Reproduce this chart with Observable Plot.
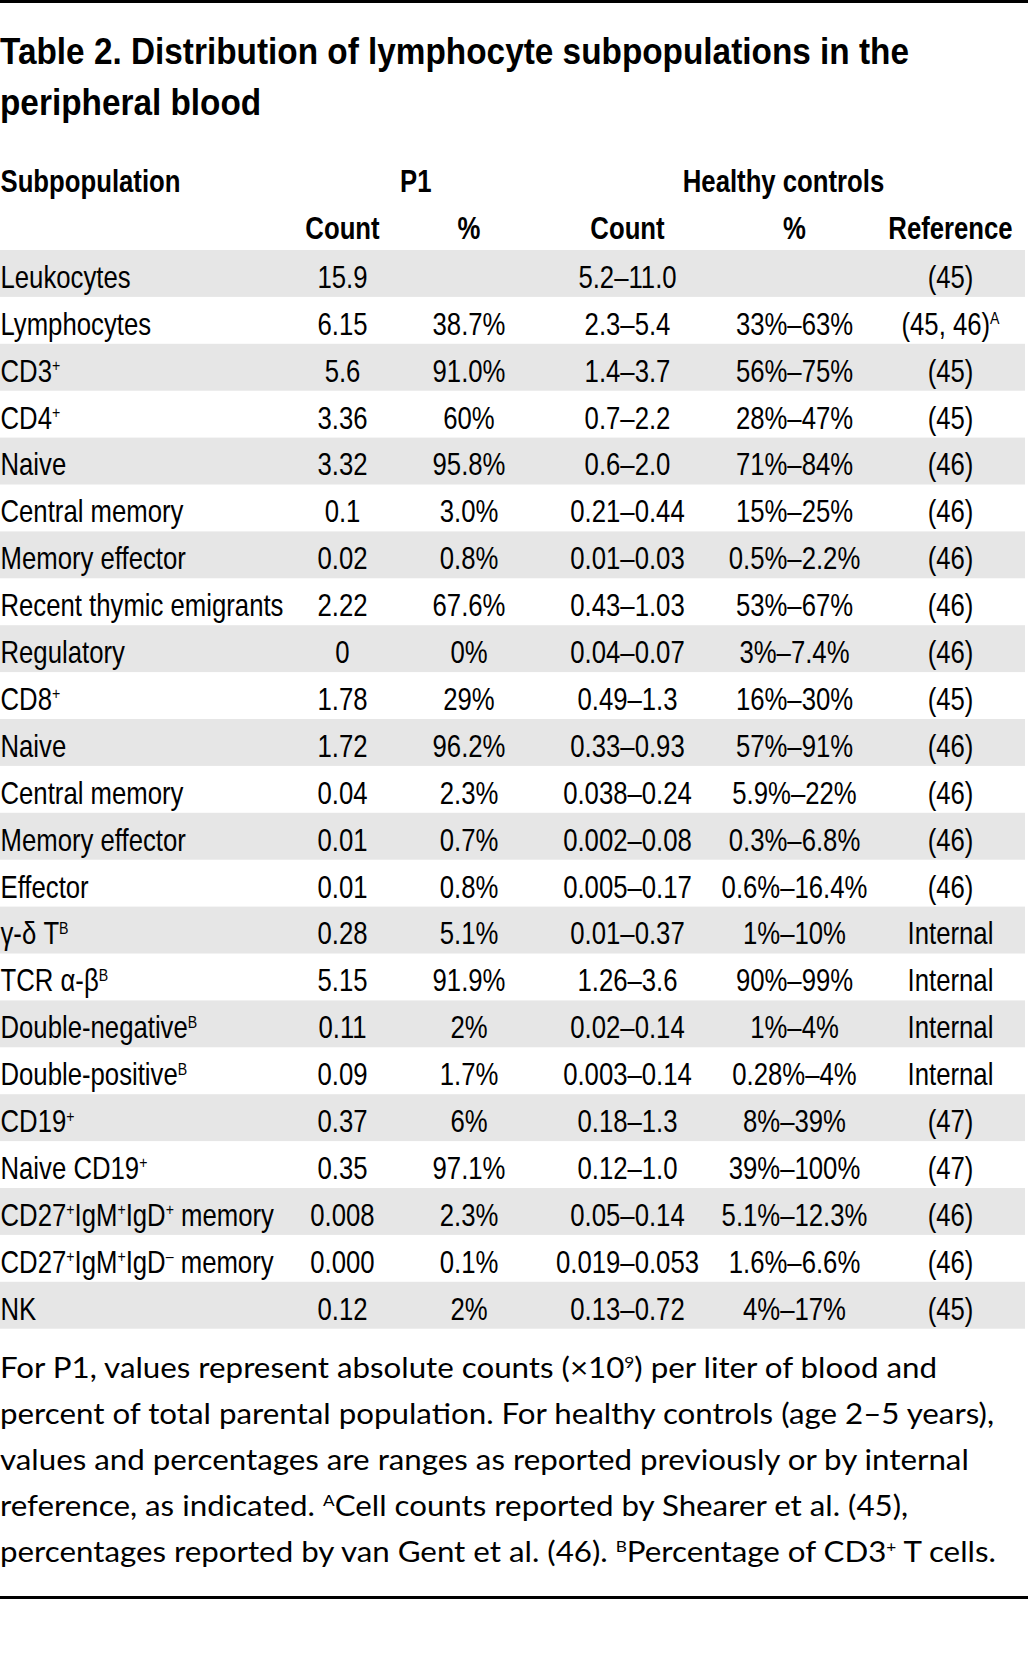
<!DOCTYPE html>
<html>
<head>
<meta charset="utf-8">
<script src="https://cdn.jsdelivr.net/npm/d3@7"></script>
<script src="https://cdn.jsdelivr.net/npm/@observablehq/plot@0.6"></script>
<style>
  html, body { margin: 0; padding: 0; background: #fff; }
  #page { position: relative; width: 1028px; height: 1677px; overflow: hidden; color: #000; }
  .rule { position: absolute; left: 0; width: 1028px; height: 2.5px; background: #000; }
  #title { position: absolute; left: 0; top: 26px; font-family: "Liberation Sans Narrow", "Liberation Sans", sans-serif;
           font-weight: bold; font-size: 36px; line-height: 51px; transform-origin: 0 0; white-space: nowrap; }
  #note { position: absolute; left: 0; top: 1344px; font-family: Lato, "Noto Sans", sans-serif;
          font-size: 29px; line-height: 46px; transform-origin: 0 0; white-space: nowrap; }
  #title span, #note span { display: inline-block; }
  sup { font-size: 55%; vertical-align: 0; position: relative; top: -0.62em; line-height: 0; }
  #chart { position: absolute; left: 0; top: 140px; }
</style>
</head>
<body>
<div id="page">
  <div class="rule" style="top:0"></div>
  <div id="title"><span id="t1">Table 2. Distribution of lymphocyte subpopulations in the</span><br><span>peripheral blood</span></div>
  <div id="chart"></div>
  <div id="note">
    <span>For P1, values represent absolute counts (×10<sup>9</sup>) per liter of blood and</span><br>
    <span id="n2">percent of total parental population. For healthy controls (age 2–5 years),</span><br>
    <span>values and percentages are ranges as reported previously or by internal</span><br>
    <span>reference, as indicated. <sup>A</sup>Cell counts reported by Shearer et al. (45),</span><br>
    <span>percentages reported by van Gent et al. (46). <sup>B</sup>Percentage of CD3<sup>+</sup> T cells.</span>
  </div>
  <div class="rule" style="top:1596px"></div>
</div>
<script>
// ---------- data ----------
const subpopulations = ["Leukocytes","Lymphocytes","CD3⁺","CD4⁺","Naive","Central memory","Memory effector",
  "Recent thymic emigrants","Regulatory","CD8⁺","Naive","Central memory","Memory effector","Effector",
  "γ-δ Tᴮ","TCR α-βᴮ","Double-negativeᴮ","Double-positiveᴮ","CD19⁺","Naive CD19⁺",
  "CD27⁺IgM⁺IgD⁺ memory","CD27⁺IgM⁺IgD⁻ memory","NK"];
const p1Count = ["15.9","6.15","5.6","3.36","3.32","0.1","0.02","2.22","0","1.78","1.72","0.04","0.01","0.01",
  "0.28","5.15","0.11","0.09","0.37","0.35","0.008","0.000","0.12"];
const p1Percent = ["","38.7%","91.0%","60%","95.8%","3.0%","0.8%","67.6%","0%","29%","96.2%","2.3%","0.7%","0.8%",
  "5.1%","91.9%","2%","1.7%","6%","97.1%","2.3%","0.1%","2%"];
const hcCount = ["5.2–11.0","2.3–5.4","1.4–3.7","0.7–2.2","0.6–2.0","0.21–0.44","0.01–0.03","0.43–1.03","0.04–0.07",
  "0.49–1.3","0.33–0.93","0.038–0.24","0.002–0.08","0.005–0.17","0.01–0.37","1.26–3.6","0.02–0.14","0.003–0.14",
  "0.18–1.3","0.12–1.0","0.05–0.14","0.019–0.053","0.13–0.72"];
const hcPercent = ["","33%–63%","56%–75%","28%–47%","71%–84%","15%–25%","0.5%–2.2%","53%–67%","3%–7.4%",
  "16%–30%","57%–91%","5.9%–22%","0.3%–6.8%","0.6%–16.4%","1%–10%","90%–99%","1%–4%","0.28%–4%",
  "8%–39%","39%–100%","5.1%–12.3%","1.6%–6.6%","4%–17%"];
const references = ["(45)","(45, 46)ᴬ","(45)","(45)","(46)","(46)","(46)","(46)","(46)","(45)","(46)","(46)","(46)","(46)",
  "Internal","Internal","Internal","Internal","(47)","(47)","(46)","(46)","(45)"];
const groupHeaders = [{text: "P1", cols: [1, 2]}, {text: "Healthy controls", cols: [3, 5]}];
const columnHeaders = ["Count", "%", "Count", "%", "Reference"];
const firstHeader = "Subpopulation";

// ---------- tables for the library ----------
const valueColumns = [p1Count, p1Percent, hcCount, hcPercent, references];
const cells = [];
valueColumns.forEach((arr, c) => arr.forEach((t, i) => { if (t) cells.push({row: i, col: c + 1, text: t}); }));
const labels = subpopulations.map((t, i) => ({row: i, col: 0, text: t}));
const headers2 = columnHeaders.map((t, c) => ({row: -1, col: c + 1, text: t}));
const shaded = subpopulations.map((_, i) => i).filter(i => i % 2 === 0);
const rowDomain = d3.range(-2, subpopulations.length);

const FONT = '"Liberation Sans Narrow", "Liberation Sans", sans-serif';
const FS = 31;
const CONDENSE = 0.83;

const chart = Plot.plot({
  width: 1028, height: 1200, margin: 0,
  style: {fontFamily: FONT, color: "#000", background: "transparent", overflow: "visible"},
  x: {axis: null, type: "linear", domain: [0, 1, 2, 3, 4, 5], range: [0, 342, 468.5, 627, 794, 950]},
  y: {axis: null, type: "band", domain: rowDomain, range: [16.2, 1188.7], padding: 0, round: false},
  marks: [
    Plot.cell(shaded, {y: d => d, fill: "#e6e6e6", insetRight: 3}),
    Plot.text([firstHeader], {x: () => 0, y: () => -2, text: d => d, textAnchor: "start", fontWeight: "bold", fontSize: FS, dy: 2}),
    Plot.text(groupHeaders.slice(0, 1), {x: d => d3.mean(d.cols), y: () => -2, text: "text", fontWeight: "bold", fontSize: FS, dy: 2, dx: 10}),
    Plot.text(groupHeaders.slice(1), {x: d => d3.mean(d.cols), y: () => -2, text: "text", fontWeight: "bold", fontSize: FS, dy: 2, dx: -11}),
    Plot.text(headers2, {x: "col", y: "row", text: "text", fontWeight: "bold", fontSize: FS, dy: 2}),
    Plot.text(labels, {x: "col", y: "row", text: "text", textAnchor: "start", fontSize: FS, dy: 4}),
    Plot.text(cells, {x: "col", y: "row", text: "text", fontSize: FS, dy: 4})
  ]
});

// superscript characters rendered as raised tspans; condensed glyph width
const SUP = {"⁺": "+", "⁻": "–", "ᴬ": "A", "ᴮ": "B", "⁹": "9"};
chart.querySelectorAll("text").forEach(el => {
  const s = el.textContent;
  if ([...s].some(ch => SUP[ch])) {
    el.textContent = "";
    const runs = [];
    for (const ch of s) {
      const sup = !!SUP[ch];
      const c = sup ? SUP[ch] : ch;
      if (runs.length && runs[runs.length - 1].sup === sup) runs[runs.length - 1].t += c;
      else runs.push({sup, t: c});
    }
    const shift = FS * 0.34;
    let raised = false;
    runs.forEach(r => {
      const ts = document.createElementNS("http://www.w3.org/2000/svg", "tspan");
      ts.textContent = r.t;
      if (r.sup) { ts.setAttribute("font-size", FS * 0.55); ts.setAttribute("dy", -shift); raised = true; }
      else if (raised) { ts.setAttribute("dy", shift); raised = false; }
      el.appendChild(ts);
    });
  }
  const t = el.getAttribute("transform");
  if (t) el.setAttribute("transform", `${t} scale(${CONDENSE},1)`);
  else {
    const x = +(el.getAttribute("x") || 0), y = +(el.getAttribute("y") || 0);
    el.removeAttribute("x"); el.removeAttribute("y");
    el.setAttribute("transform", `translate(${x},${y}) scale(${CONDENSE},1)`);
  }
});
document.getElementById("chart").appendChild(chart);

// fit title and note widths to the reference line lengths
function fit(blockId, lineId, target) {
  const w = document.getElementById(lineId).getBoundingClientRect().width;
  document.getElementById(blockId).style.transform = `scaleX(${target / w})`;
}
fit("title", "t1", 909);
fit("note", "n2", 994);
</script>
</body>
</html>
